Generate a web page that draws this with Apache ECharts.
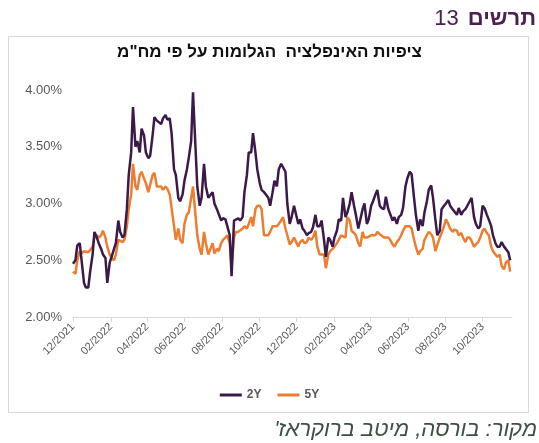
<!DOCTYPE html>
<html>
<head>
<meta charset="utf-8">
<script src="https://cdn.jsdelivr.net/npm/echarts@6/dist/echarts.min.js"></script>
<style>
html,body{margin:0;padding:0;background:#fff;}
#c{width:539px;height:443px;}
</style>
</head>
<body>
<div id="c"></div>
<script>
// Wednesday observations
const datesA = [
 '2021-12-01','2021-12-08','2021-12-15','2021-12-22','2021-12-29',
 '2022-01-05','2022-01-12','2022-01-19','2022-01-26',
 '2022-02-02','2022-02-09','2022-02-16','2022-02-23',
 '2022-03-02','2022-03-09','2022-03-16','2022-03-23','2022-03-30',
 '2022-04-06','2022-04-13','2022-04-20','2022-04-27',
 '2022-05-04','2022-05-11','2022-05-18','2022-05-25',
 '2022-06-01','2022-06-08','2022-06-15','2022-06-22','2022-06-29',
 '2022-07-06','2022-07-13','2022-07-20','2022-07-27',
 '2022-08-03','2022-08-10','2022-08-17','2022-08-24','2022-08-31',
 '2022-09-07','2022-09-14','2022-09-21','2022-09-28',
 '2022-10-05','2022-10-12','2022-10-19','2022-10-26',
 '2022-11-02','2022-11-09','2022-11-16','2022-11-23','2022-11-30',
 '2022-12-07','2022-12-14','2022-12-21','2022-12-28',
 '2023-01-04','2023-01-11','2023-01-18','2023-01-25',
 '2023-02-01','2023-02-08','2023-02-15','2023-02-22',
 '2023-03-01','2023-03-08','2023-03-15','2023-03-22','2023-03-29',
 '2023-04-05','2023-04-12','2023-04-19','2023-04-26',
 '2023-05-03','2023-05-10','2023-05-17','2023-05-24','2023-05-31',
 '2023-06-07','2023-06-14','2023-06-21','2023-06-28',
 '2023-07-05','2023-07-12','2023-07-19','2023-07-26',
 '2023-08-02','2023-08-09','2023-08-16','2023-08-23','2023-08-30',
 '2023-09-06','2023-09-13','2023-09-20','2023-09-27',
 '2023-10-04','2023-10-11','2023-10-18','2023-10-25',
 '2023-11-01','2023-11-08','2023-11-15'
];
const y2A = [
 2.47,2.63,2.65,2.26,2.40,
 2.75,2.65,2.55,2.30,
 2.53,2.65,2.75,2.72,
 3.25,3.85,3.55,3.66,3.45,
 3.42,3.76,3.72,3.75,
 3.74,3.62,3.25,3.02,
 3.20,3.40,3.98,3.15,3.05,
 3.15,3.05,3.00,2.95,
 2.87,2.80,2.36,2.85,2.85,
 3.10,3.45,3.62,3.30,
 3.12,3.08,2.98,3.20,
 3.30,3.35,3.00,2.88,2.91,
 2.86,2.76,2.74,2.79,
 2.80,2.85,2.53,2.68,
 2.70,2.86,3.05,2.92,
 3.10,2.90,2.78,3.00,2.86,
 3.02,3.12,2.96,3.06,
 2.95,2.88,2.88,2.96,3.22,
 3.26,2.90,2.86,2.92,
 3.12,3.05,2.72,2.95,
 3.00,2.98,2.95,2.96,2.93,
 2.98,3.05,2.82,2.80,
 2.96,2.86,2.72,2.62,
 2.66,2.60,2.50
];
const y5A = [
 2.40,2.50,2.56,2.57,2.59,
 2.70,2.70,2.76,2.62,
 2.52,2.55,2.68,2.68,
 2.95,3.35,3.12,3.28,3.18,
 3.10,3.27,3.15,3.12,
 3.13,3.08,2.68,2.68,
 2.82,2.92,3.15,2.72,2.55,
 2.65,2.55,2.56,2.58,
 2.68,2.72,2.45,2.75,2.75,
 2.80,2.82,2.80,2.98,
 2.95,2.72,2.75,2.80,
 2.82,2.88,2.72,2.66,2.70,
 2.66,2.65,2.70,2.70,
 2.62,2.55,2.43,2.58,
 2.62,2.68,2.72,2.88,
 2.76,2.72,2.62,2.70,2.70,
 2.72,2.75,2.72,2.70,
 2.68,2.62,2.68,2.76,2.81,
 2.78,2.62,2.58,2.68,
 2.75,2.70,2.58,2.74,
 2.86,2.78,2.77,2.72,2.70,
 2.70,2.67,2.64,2.70,
 2.78,2.72,2.58,2.53,
 2.45,2.48,2.40
];
// Sunday (mid-week) observations
const datesB = [
 '2021-12-05','2021-12-12','2021-12-19','2021-12-26','2022-01-02',
 '2022-01-09','2022-01-16','2022-01-23','2022-01-30',
 '2022-02-06','2022-02-13','2022-02-20','2022-02-27',
 '2022-03-06','2022-03-13','2022-03-20','2022-03-27','2022-04-03',
 '2022-04-10','2022-04-17','2022-04-24','2022-05-01',
 '2022-05-08','2022-05-15','2022-05-22','2022-05-29',
 '2022-06-05','2022-06-12','2022-06-19','2022-06-26','2022-07-03',
 '2022-07-10','2022-07-17','2022-07-24','2022-07-31',
 '2022-08-07','2022-08-14','2022-08-21','2022-08-28','2022-09-04',
 '2022-09-11','2022-09-18','2022-09-25','2022-10-02',
 '2022-10-09','2022-10-16','2022-10-23','2022-10-30',
 '2022-11-06','2022-11-13','2022-11-20','2022-11-27','2022-12-04',
 '2022-12-11','2022-12-18','2022-12-25','2023-01-01',
 '2023-01-08','2023-01-15','2023-01-22','2023-01-29',
 '2023-02-05','2023-02-12','2023-02-19','2023-02-26',
 '2023-03-05','2023-03-12','2023-03-19','2023-03-26','2023-04-02',
 '2023-04-09','2023-04-16','2023-04-23','2023-04-30',
 '2023-05-07','2023-05-14','2023-05-21','2023-05-28','2023-06-04',
 '2023-06-11','2023-06-18','2023-06-25','2023-07-02',
 '2023-07-09','2023-07-16','2023-07-23','2023-07-30',
 '2023-08-06','2023-08-13','2023-08-20','2023-08-27','2023-09-03',
 '2023-09-10','2023-09-17','2023-09-24','2023-10-01',
 '2023-10-08','2023-10-15','2023-10-22','2023-10-29',
 '2023-11-05','2023-11-12'
];
const y2B = [
 2.50,2.65,2.30,2.26,2.55,
 2.70,2.60,2.52,2.48,
 2.60,2.85,2.70,2.95,
 3.45,3.50,3.45,3.60,3.40,
 3.60,3.73,3.70,3.78,
 3.75,3.30,3.05,3.08,
 3.30,3.55,3.50,2.98,3.35,
 3.05,3.10,2.95,2.85,
 2.86,2.72,2.85,2.87,2.88,
 3.25,3.45,3.45,3.18,
 3.10,3.05,3.10,3.15,
 3.35,3.28,2.82,2.98,2.82,
 2.78,2.72,2.75,2.90,
 2.80,2.68,2.70,2.62,
 2.76,2.85,2.88,3.00,
 2.98,2.78,2.95,2.82,2.98,
 3.08,2.98,2.95,2.95,
 2.85,2.82,2.90,3.15,3.28,
 3.05,2.76,2.80,3.02,
 3.16,2.85,2.76,2.98,
 3.03,2.95,2.90,2.90,2.95,
 3.02,2.88,2.78,2.98,
 2.90,2.80,2.65,2.62,
 2.62,2.57
];
const y5B = [
 2.38,2.58,2.58,2.57,2.62,
 2.72,2.72,2.70,2.55,
 2.50,2.68,2.66,2.80,
 3.08,3.15,3.25,3.22,3.10,
 3.25,3.15,3.15,3.15,
 3.08,2.80,2.78,2.65,
 2.90,3.05,2.90,2.60,2.75,
 2.55,2.65,2.60,2.65,
 2.70,2.65,2.70,2.75,2.78,
 2.78,2.88,2.95,2.98,
 2.72,2.72,2.80,2.80,
 2.85,2.78,2.64,2.70,2.62,
 2.68,2.66,2.68,2.76,
 2.55,2.55,2.55,2.60,
 2.65,2.72,2.70,2.85,
 2.74,2.65,2.75,2.70,2.72,
 2.72,2.73,2.70,2.70,
 2.64,2.66,2.72,2.80,2.80,
 2.68,2.55,2.60,2.72,
 2.73,2.58,2.70,2.80,
 2.82,2.75,2.76,2.74,2.66,
 2.70,2.62,2.66,2.76,
 2.74,2.62,2.55,2.55,
 2.42,2.50
];
const xTicks = ['2021-12-01','2022-02-01','2022-04-01','2022-06-01','2022-08-01','2022-10-01',
 '2022-12-01','2023-02-01','2023-04-01','2023-06-01','2023-08-01','2023-10-01'];
const xMin = '2021-12-01';
const xMax = '2023-11-18';
const seriesNames = ['2Y','5Y'];
const colors = ['#3b1a4a','#ed7d31'];
const headerNum = '13';
const headerWord = 'תרשים';
const titleText = 'ציפיות האינפלציה  הגלומות על פי מח"מ';
const sourceText = "מקור: בורסה, מיטב ברוקראז'\u200F";

const font = "'Liberation Sans', 'DejaVu Sans', Arial, sans-serif";
const ts = d => Date.parse(d + 'T00:00:00Z');
const tickTimes = xTicks.map(ts);

function buildSeries(valsA, valsB) {
  const pts = datesA.map((d, i) => [ts(d), valsA[i]])
    .concat(datesB.map((d, i) => [ts(d), valsB[i]]));
  pts.sort((a, b) => a[0] - b[0]);
  return pts;
}
const seriesData = [buildSeries(y2A, y2B), buildSeries(y5A, y5B)];

const chart = echarts.init(document.getElementById('c'), null, {renderer: 'canvas'});
chart.setOption({
  animation: false,
  backgroundColor: '#ffffff',
  textStyle: {fontFamily: font},
  graphic: [
    {type: 'rect', shape: {x: 8.5, y: 36.5, width: 520, height: 376},
     style: {fill: 'none', stroke: '#d9d9d9', lineWidth: 1}, silent: true},
    {type: 'text', right: 3, top: 8,
     style: {text: '{n|' + headerNum + '}{b|' + headerWord + '}',
       rich: {n: {fontSize: 22, fontFamily: font, fill: '#4b2150', fontWeight: 'normal', padding: [0, 9, 0, 0]},
              b: {fontSize: 22, fontFamily: font, fill: '#4b2150', fontWeight: 'bold'}}}},
    {type: 'text', left: 'center', top: 44,
     style: {text: titleText, fontSize: 17, fontWeight: 'bold', fill: '#111111', fontFamily: font}},
    {type: 'text', right: 2, top: 419,
     style: {text: sourceText, fontSize: 22, fontStyle: 'italic', fill: '#3e4f44', fontFamily: font}}
  ],
  legend: {
    data: seriesNames,
    bottom: 37, left: 'center',
    icon: 'rect', itemWidth: 22, itemHeight: 3, itemGap: 16,
    textStyle: {color: '#595959', fontSize: 12, fontWeight: 'bold', fontFamily: font}
  },
  grid: {left: 73, right: 27, top: 90, bottom: 126},
  xAxis: {
    type: 'value',
    min: ts(xMin), max: ts(xMax),
    axisLine: {show: true, lineStyle: {color: '#d9d9d9', width: 1}},
    axisTick: {show: true, customValues: tickTimes, length: 5, lineStyle: {color: '#d9d9d9'}},
    axisLabel: {
      customValues: tickTimes, rotate: 45, color: '#595959', fontSize: 11, fontFamily: font, margin: 8,
      formatter: function (v) {
        const d = new Date(v);
        const m = d.getUTCMonth() + 1;
        return (m < 10 ? '0' : '') + m + '/' + d.getUTCFullYear();
      }
    },
    splitLine: {show: false}
  },
  yAxis: {
    type: 'value', min: 2, max: 4, interval: 0.5,
    axisLine: {show: false}, axisTick: {show: false}, splitLine: {show: false},
    axisLabel: {color: '#595959', fontSize: 13, fontFamily: font, margin: 11,
      formatter: v => v.toFixed(2) + '%'}
  },
  series: seriesNames.map((n, i) => ({
    name: n, type: 'line', showSymbol: false, symbol: 'none',
    data: seriesData[i],
    lineStyle: {color: colors[i], width: 2.5},
    itemStyle: {color: colors[i]},
    z: i === 0 ? 3 : 2
  }))
});
</script>
</body>
</html>
